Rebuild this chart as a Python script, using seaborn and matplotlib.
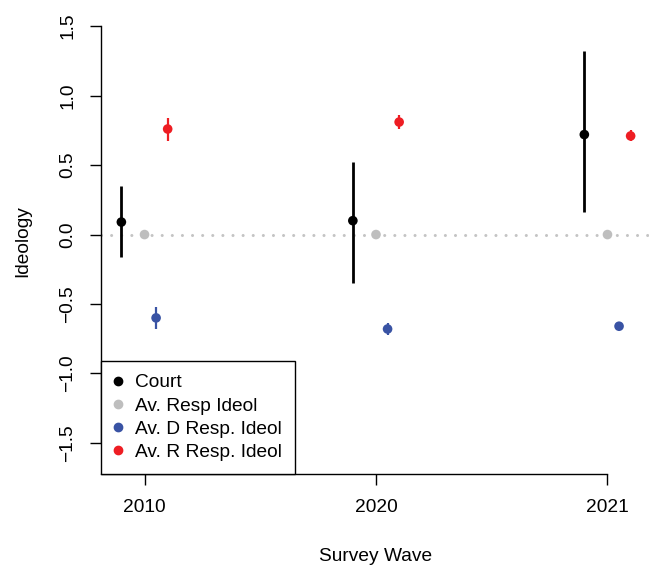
import numpy as np
import pandas as pd
import seaborn as sns
import matplotlib.pyplot as plt
from matplotlib.lines import Line2D

# data
waves = ['2010', '2020', '2021']
court = [0.09, 0.10, 0.72]
court_lo = [-0.16, -0.35, 0.16]
court_hi = [0.35, 0.52, 1.32]
resp = [0.0, 0.0, 0.0]
dem = [-0.60, -0.68, -0.66]
dem_lo = [-0.68, -0.72, -0.68]
dem_hi = [-0.52, -0.64, -0.64]
rep = [0.76, 0.81, 0.71]
rep_lo = [0.67, 0.76, 0.67]
rep_hi = [0.84, 0.86, 0.75]

series = ['Court', 'Av. Resp Ideol', 'Av. D Resp. Ideol', 'Av. R Resp. Ideol']
offsets = [-0.1, 0.0, 0.05, 0.1]
colors = ['black', '#BEBEBE', '#3953A4', '#EE1D23']

pos = np.arange(1, len(waves) + 1)
rows = []
vals = [court, resp, dem, rep]
los = [court_lo, resp, dem_lo, rep_lo]
his = [court_hi, resp, dem_hi, rep_hi]
for s, off, v, lo, hi in zip(series, offsets, vals, los, his):
    for i in range(len(waves)):
        rows.append({'series': s, 'x': pos[i] + off, 'y': v[i], 'lo': lo[i], 'hi': hi[i]})
df = pd.DataFrame(rows)

sns.set_style('white')
plt.rcParams['font.family'] = ['Liberation Sans', 'DejaVu Sans']
plt.rcParams['text.color'] = 'black'
plt.rcParams['axes.labelcolor'] = 'black'
plt.rcParams['xtick.color'] = 'black'
plt.rcParams['ytick.color'] = 'black'

fig = plt.figure(figsize=(6.49, 5.65), dpi=100)
ax = fig.add_axes([101 / 649, 91 / 565, 550 / 649, 465 / 565])

# dotted reference line at zero
ax.axhline(0, color='#C4C4C4', lw=2.2, linestyle=(0, (0.01, 3.3)),
           dash_capstyle='round', zorder=1)

for s, c in zip(series, colors):
    d = df[df['series'] == s]
    lw = 2.0 if s == 'Court' else 1.6
    ax.vlines(d['x'], d['lo'], d['hi'], color=c, lw=lw, zorder=2)

sns.scatterplot(data=df, x='x', y='y', hue='series', palette=dict(zip(series, colors)),
                s=48, edgecolor='none', legend=False, ax=ax, zorder=3)

ax.set_xlim(0.812, 3.188)
ax.set_ylim(-1.724, 1.624)
ax.set_xticks(pos)
ax.set_xticklabels(waves)
ax.set_yticks([-1.5, -1.0, -0.5, 0.0, 0.5, 1.0, 1.5])
ax.set_yticklabels(['\u22121.5', '\u22121.0', '\u22120.5', '0.0', '0.5', '1.0', '1.5'],
                   rotation=90, va='center')
ax.tick_params(axis='both', direction='out', length=8, width=1,
               labelsize=13.8, pad=10, bottom=True, left=True)
ax.set_xlabel('Survey Wave', fontsize=13.8, labelpad=23)
ax.set_ylabel('Ideology', fontsize=13.8, labelpad=20)

for side in ['top', 'right']:
    ax.spines[side].set_visible(False)
ax.spines['left'].set_bounds(-1.5, 1.5)
ax.spines['bottom'].set_bounds(0.812, 3.0)
for side in ['left', 'bottom']:
    ax.spines[side].set_color('black')
    ax.spines[side].set_linewidth(1)

handles = [Line2D([], [], marker='o', linestyle='none', color=c, markersize=6) for c in colors]
leg = ax.legend(handles, series, loc='lower left', bbox_to_anchor=(0, 0), borderaxespad=0,
                fontsize=13.8, frameon=True, fancybox=False, framealpha=1,
                handlelength=0.4, handletextpad=0.7, borderpad=0.68, labelspacing=0.3)
leg.get_frame().set_edgecolor('black')
leg.get_frame().set_linewidth(1)

fig.savefig('out.png', dpi=100)
